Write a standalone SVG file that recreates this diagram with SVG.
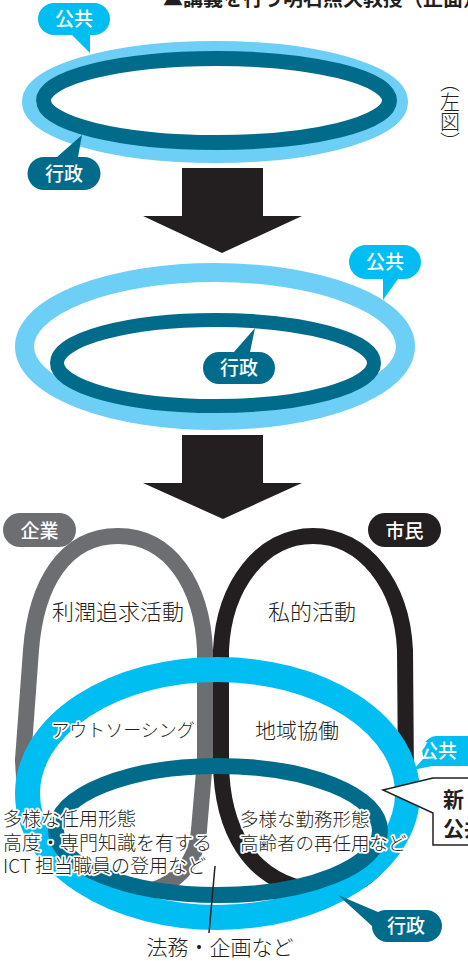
<svg xmlns="http://www.w3.org/2000/svg" width="468" height="961" viewBox="0 0 468 961">
<style>
text{font-family:"Noto Sans CJK JP","Noto Sans",sans-serif;}
.lbl{fill:#fff;font-size:19px;font-weight:500;text-anchor:middle;}
.body{fill:#231f20;font-weight:300;}
.halo{paint-order:stroke;stroke:#fff;stroke-width:3.5px;stroke-linejoin:round;}
.arrow{fill:#231f20;}
.pub{fill:#00bef2;}
.adm{fill:#006b8a;}
</style>
<rect width="468" height="961" fill="#fff"/>
<text x="163" y="6" font-size="20" font-weight="bold" fill="#231f20">▲講義を行う明石照久教授（正面）</text>
<text x="450" y="72" font-size="20" class="body" writing-mode="vertical-rl">（左図）</text>

<g id="stage1">
<ellipse cx="215" cy="102" rx="186" ry="54" fill="none" stroke="#6dcff6" stroke-width="14"/>
<ellipse cx="216.5" cy="100.5" rx="173" ry="42" fill="none" stroke="#006b8a" stroke-width="15"/>
</g>
<g id="label-public-1">
<path class="pub" d="M54,3 H94 A16,16 0 0 1 94,35 H90 V53 L72,35 H54 A16,16 0 0 1 54,3 Z"/>
<text class="lbl" x="74" y="26">公共</text>
</g>
<g id="label-admin-1">
<path class="adm" d="M44,157 H57 L82,135 L78,157 H84 A16.5,16.5 0 0 1 84,190 H44 A16.5,16.5 0 0 1 44,157 Z"/>
<text class="lbl" x="64" y="181">行政</text>
</g>

<g id="arrow1"><polygon class="arrow" points="182,168 263,168 263,216 302,216 222,253 143,216 182,216"/></g>

<g id="stage2">
<ellipse cx="215" cy="346.5" rx="190.5" ry="74" fill="none" stroke="#6dcff6" stroke-width="19"/>
<ellipse cx="215.5" cy="363" rx="158.5" ry="43" fill="none" stroke="#006b8a" stroke-width="14"/>
</g>
<g id="label-public-2">
<path class="pub" d="M366,245 H404 A17,17 0 0 1 404,279 H398 L383,300 V279 H366 A17,17 0 0 1 366,245 Z"/>
<text class="lbl" x="385" y="269">公共</text>
</g>
<g id="label-admin-2">
<path class="adm" d="M219,352 H234 L255,328 L250,352 H259 A16,16 0 0 1 259,384 H219 A16,16 0 0 1 219,352 Z"/>
<text class="lbl" x="239" y="375">行政</text>
</g>

<g id="arrow2"><polygon class="arrow" points="182,435 263,435 263,483 302,483 223,519 143,483 182,483"/></g>

<g id="stage3">
<g id="loop-company">
<path d="M118,536 C64,536 36,585 31,650 L23,760 C25,830 60,888 118,893 C168,897 196,868 199,830 L205,760 L205,650 C202,585 170,536 118,536 Z" fill="none" stroke="#6d6e71" stroke-width="16"/>
</g>
<g id="loop-citizen">
<path d="M313,536 C262,536 224,585 221,650 L221,760 C221,830 250,880 310,890 C370,898 402,850 406,780 L405,650 C402,585 364,536 313,536 Z" fill="none" stroke="#231f20" stroke-width="16"/>
</g>
<g id="ring-public">
<ellipse cx="217.5" cy="793.5" rx="190" ry="124" fill="none" stroke="#00bef2" stroke-width="25"/>
</g>
<g id="ring-admin">
<ellipse cx="218" cy="830.5" rx="162" ry="64.5" fill="none" stroke="#006b8a" stroke-width="16"/>
</g>
</g>

<g id="label-company">
<rect x="3" y="513" width="73" height="34" rx="17" fill="#6d6e71"/>
<text class="lbl" x="39.5" y="537.5" font-size="20">企業</text>
</g>
<g id="label-citizen">
<rect x="368" y="513" width="73" height="34" rx="17" fill="#231f20"/>
<text class="lbl" x="404.5" y="537.5" font-size="20">市民</text>
</g>

<g id="texts" class="body">
<text x="118" y="620" font-size="22" text-anchor="middle">利潤追求活動</text>
<text x="312" y="620" font-size="22" text-anchor="middle">私的活動</text>
<text class="halo" x="123" y="737" font-size="18" text-anchor="middle">アウトソーシング</text>
<text class="halo" x="297" y="738" font-size="21" text-anchor="middle">地域協働</text>
<g class="halo" font-size="19">
<text x="3" y="826">多様な任用形態</text>
<text x="3" y="850">高度・専門知識を有する</text>
<text x="3" y="873">ICT 担当職員の登用など</text>
</g>
<g class="halo" font-size="18.5">
<text x="240" y="826">多様な勤務形態</text>
<text x="240" y="850">高齢者の再任用など</text>
</g>
<text x="220" y="955" font-size="21" text-anchor="middle">法務・企画など</text>
</g>

<g id="connectors">
<line x1="215" y1="866" x2="209" y2="933" stroke="#231f20" stroke-width="1.5"/>
</g>

<g id="label-public-3">
<path class="pub" d="M436,736 H480 V766 H432 L413,770 L424,758 A15,15 0 0 1 436,736 Z"/>
<text class="lbl" x="438" y="758" font-size="18" text-anchor="start">公共</text>
</g>
<g id="callout-new">
<path d="M470,778 H433 L383,790 L433,813 V845 H470" fill="#fff" stroke="#231f20" stroke-width="1.5"/>
<text x="443" y="807" font-size="21" font-weight="bold" fill="#231f20">新しい</text>
<text x="443" y="836" font-size="21" font-weight="bold" fill="#231f20">公共</text>
</g>
<g id="label-admin-3">
<path class="adm" d="M386,910 H426 A16,16 0 0 1 426,942 H386 A16,16 0 0 1 372,926 L338,895 L378,912 A16,16 0 0 1 386,910 Z"/>
<text class="lbl" x="406" y="933">行政</text>
</g>
</svg>
